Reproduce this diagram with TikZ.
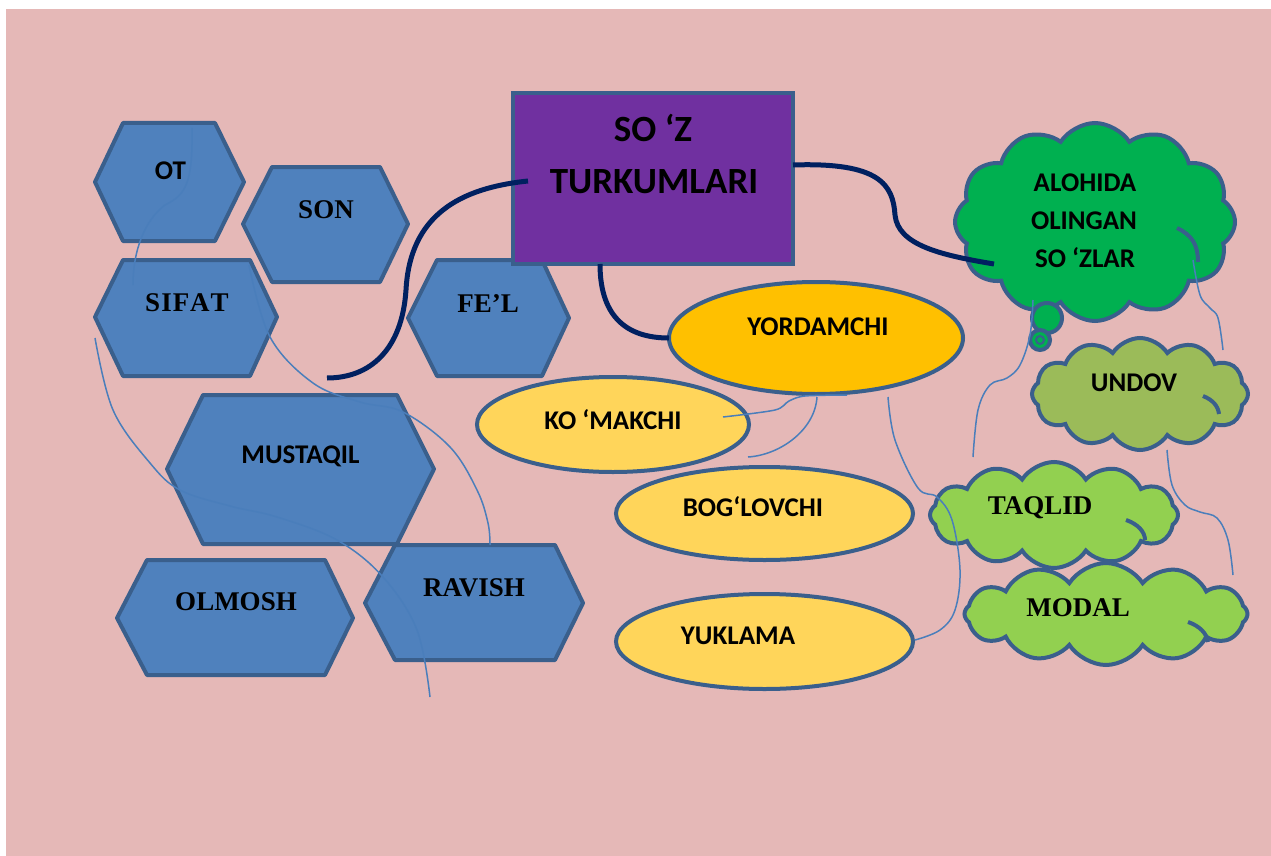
\documentclass[tikz,border=0pt]{standalone}
\usepackage{fontspec}
\setmainfont{Liberation Serif}
\newfontfamily\calib{Carlito}
\usetikzlibrary{shapes.geometric,shapes.symbols}
\definecolor{bg}{HTML}{E5B8B7}
\definecolor{hexfill}{HTML}{4F81BD}
\definecolor{bord}{HTML}{3A5F8C}
\definecolor{purp}{HTML}{7030A0}
\definecolor{gold}{HTML}{FFC000}
\definecolor{lyel}{HTML}{FFD55A}
\definecolor{gcloud}{HTML}{00B050}
\definecolor{olive}{HTML}{9BBB59}
\definecolor{lgreen}{HTML}{92D050}
\definecolor{navy}{HTML}{002060}
\definecolor{thin}{HTML}{4A7EBB}
\tikzset{
  hexa/.style={fill=hexfill, draw=bord, line width=4pt, line join=round},
  sanslab/.style={font=\calib\bfseries\fontsize{27}{30}\selectfont, text height=17.4pt, text depth=0pt, inner sep=0pt},
  serlab/.style={font=\bfseries\fontsize{27}{30}\selectfont, text height=17.9pt, text depth=0pt, inner sep=0pt},
  titlelab/.style={font=\calib\bfseries\fontsize{37}{40}\selectfont, text height=23.8pt, text depth=0pt, inner sep=0pt},
  oval/.style={ellipse, draw=bord, line width=4pt, inner sep=0pt},
  puff/.style={cloud, cloud puffs=12, cloud puff arc=115, cloud ignores aspect, draw=bord, line width=4pt, inner sep=0pt},
  wisp/.style={draw=bord, line width=4pt},
  navyline/.style={draw=navy, line width=5pt},
  thinline/.style={draw=thin, line width=1.5pt},
}
\begin{document}
\begin{tikzpicture}[x=1pt,y=-1pt]
\useasboundingbox (0,0) rectangle (1271,856);
\fill[bg] (6,9) rectangle (1271,856);

% hexagons
\draw[hexa] (95,182) -- (123,123) -- (215,123) -- (244,182) -- (215,241) -- (123,241) -- cycle;
\node[sanslab] (ot) at (170.5,171) {OT};
\draw[hexa] (243,224) -- (272,167) -- (380,167) -- (408,224) -- (380,282) -- (272,282) -- cycle;
\node[serlab] (son) at (326,210) {SON};
\draw[hexa] (95,317) -- (123,260) -- (250,260) -- (277,317) -- (250,376) -- (123,376) -- cycle;
\node[serlab] (sifat) at (187,303) {S\kern1ptI\kern1ptF\kern1ptA\kern1ptT};
\draw[hexa] (408,318) -- (437,260) -- (542,260) -- (569,318) -- (542,376) -- (437,376) -- cycle;
\node[serlab] (fel) at (488,304) {FE’L};
\draw[hexa] (167,469) -- (203,395) -- (397,395) -- (434,469) -- (397,544) -- (203,544) -- cycle;
\node[sanslab] (mustaqil) at (300.5,455) {MUSTAQIL};
\draw[hexa] (117,618) -- (147,560) -- (325,560) -- (353,618) -- (325,675) -- (147,675) -- cycle;
\node[serlab] (olmosh) at (236,602) {OLMOSH};
\draw[hexa] (365,603) -- (395,545) -- (555,545) -- (583,603) -- (555,660) -- (395,660) -- cycle;
\node[serlab] (ravish) at (474,588) {RAVISH};

% title box
\node[draw=bord, fill=purp, line width=4pt, minimum width=280, minimum height=171, inner sep=0pt] (box) at (653,178.5) {};
\node[titlelab] (t1) at (653,130) {SO ‘Z};
\node[titlelab] (t2) at (654,182) {TURKUMLARI};

% ellipses
\node[oval, fill=gold, minimum width=294, minimum height=112] (yord) at (816,338) {};
\node[sanslab] (yordt) at (818,327) {YORDAMCHI};
\node[oval, fill=lyel, minimum width=272, minimum height=95] (kom) at (613,424.5) {};
\node[sanslab] (komt) at (613,420.5) {KO ‘MAKCHI};
\node[oval, fill=lyel, minimum width=297, minimum height=93] (bog) at (764.5,513.5) {};
\node[sanslab] (bogt) at (753,508) {BOG‘LOVCHI};
\node[oval, fill=lyel, minimum width=297, minimum height=95] (yuk) at (764.5,641.5) {};
\node[sanslab] (yukt) at (738,635.5) {YUKLAMA};

% clouds
\node[puff, fill=gcloud, minimum width=280, minimum height=198] (alo) at (1095,222) {};
\draw[wisp] (1177,228) .. controls (1192,235) and (1198,245) .. (1198,262);
\draw[draw=bord, line width=4pt, fill=gcloud] (1047,318) circle (15);
\draw[draw=bord, line width=4pt, fill=gcloud] (1040,340) circle (10);
\draw[draw=bord, line width=2pt] (1040,340) circle (4);
\node[sanslab] (a1) at (1085,183) {ALOHIDA};
\node[sanslab] (a2) at (1084,221) {OLINGAN};
\node[sanslab] (a3) at (1085,259) {SO ‘ZLAR};
\node[puff, fill=olive, minimum width=216, minimum height=112] (undov) at (1140,394) {};
\draw[wisp] (1203,396) .. controls (1213,400) and (1218,406) .. (1219,414);
\node[sanslab] (undovt) at (1134,383) {UNDOV};
\node[puff, fill=lgreen, minimum width=248, minimum height=106] (taqlid) at (1054,515) {};
\draw[wisp] (1126,520) .. controls (1138,524) and (1145,532) .. (1145,540);
\node[serlab] (taqlidt) at (1040,506) {TAQLID};
\node[puff, fill=lgreen, minimum width=283, minimum height=102] (modal) at (1106,614) {};
\draw[wisp] (1188,622) .. controls (1200,626) and (1207,634) .. (1208,642);
\node[serlab] (modalt) at (1078,608) {MODAL};

% navy connectors
\coordinate (n1s) at (528,181);
\coordinate (n1e) at (327,378);
\coordinate (n2s) at (793,165);
\coordinate (n2e) at (994,264);
\coordinate (n3s) at (600,264);
\coordinate (n3e) at (669,338);
\draw[navyline] (n1s) .. controls (460,188) and (410,215) .. (406,290) .. controls (402,350) and (370,378) .. (n1e);
\draw[navyline] (n2s) .. controls (880,162) and (893,185) .. (895,215) .. controls (898,245) and (940,255) .. (n2e);
\draw[navyline] (n3s) .. controls (600,320) and (630,338) .. (n3e);

% thin connectors
\coordinate (la) at (192,128);   \coordinate (lb) at (133,285);
\draw[thinline] (la) .. controls (193,185) and (185,195) .. (165,205) .. controls (145,220) and (133,250) .. (lb);
\coordinate (sa) at (249,265);  \coordinate (sb) at (490,545);
\draw[thinline] plot[smooth, tension=0.6] coordinates {(sa) (270,337) (313,383) (360,402) (403,412) (450,447) (477,490) (488,523) (sb)};
\coordinate (ca) at (95,338);  \coordinate (cb) at (430,697);
\draw[thinline] plot[smooth, tension=0.6] coordinates {(ca) (113,410) (150,463) (180,490) (230,506) (277,517) (337,540) (383,577) (417,630) (cb)};
\coordinate (da) at (723,417);  \coordinate (db) at (847,395);
\draw[thinline] plot[smooth, tension=0.5] coordinates {(da) (775,410) (789,401) (805,396) (db)};
\coordinate (ea) at (817,397);  \coordinate (eb) at (748,457);
\draw[thinline] (ea) .. controls (815,430) and (780,455) .. (eb);
\coordinate (fa) at (888,397);  \coordinate (fb) at (915,640);
\draw[thinline] plot[smooth, tension=0.6] coordinates {(fa) (895,440) (918,488) (937,497) (952,520) (960,570) (955,610) (940,630) (fb)};
\coordinate (ga) at (1033,300);  \coordinate (gb) at (973,457);
\draw[thinline] plot[smooth, tension=0.6] coordinates {(ga) (1030,335) (1020,365) (1007,378) (990,385) (978,410) (gb)};
\coordinate (ha) at (1193,260);  \coordinate (hb) at (1223,350);
\draw[thinline] plot[smooth, tension=0.6] coordinates {(ha) (1200,295) (1210,308) (1218,318) (hb)};
\coordinate (ia) at (1167,450);  \coordinate (ib) at (1233,575);
\draw[thinline] plot[smooth, tension=0.6] coordinates {(ia) (1172,485) (1185,505) (1200,512) (1217,518) (1228,540) (ib)};
\end{tikzpicture}
\end{document}
